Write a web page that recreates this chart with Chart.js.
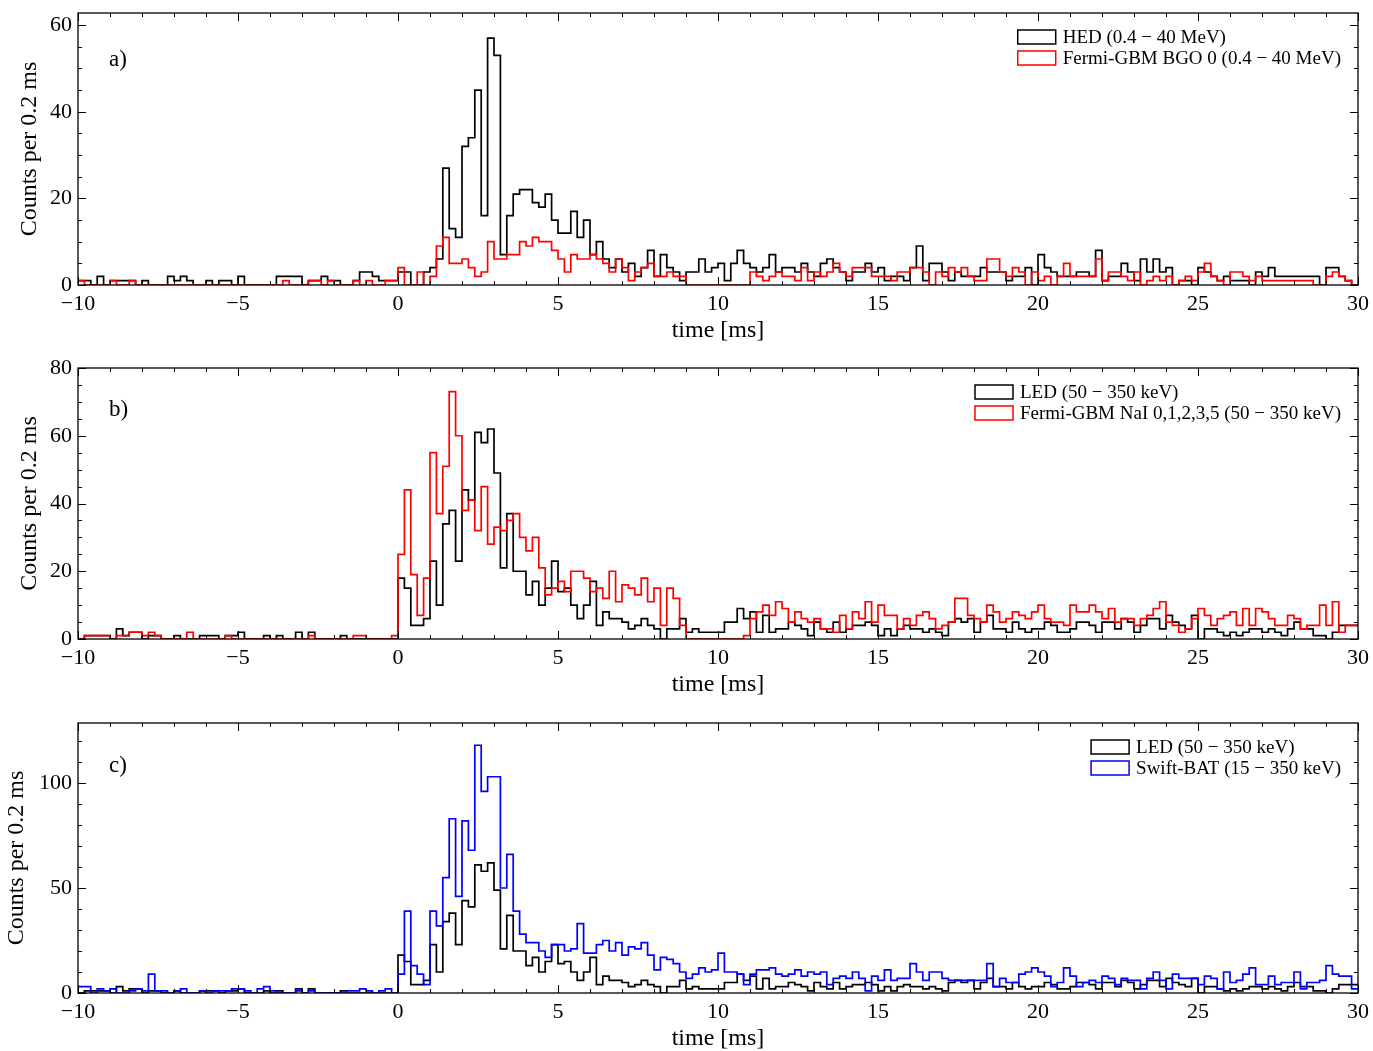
<!DOCTYPE html>
<html>
<head>
<meta charset="utf-8">
<script src="https://cdn.jsdelivr.net/npm/chart.js@4.4.6/dist/chart.umd.min.js"></script>
<style>
  html, body { margin: 0; padding: 0; background: #fff; }
  canvas { position: absolute; left: 0; }
</style>
</head>
<body>
<canvas id="pa" width="1373" height="355" style="top:0px"></canvas>
<canvas id="pb" width="1373" height="355" style="top:355px"></canvas>
<canvas id="pc" width="1373" height="341" style="top:710px"></canvas>
<script>
// Bins: 0.2 ms wide, from -10 ms to 30 ms (200 bins)
const binStart = -10;
const binWidth = 0.2;

const xTicks = [-10, -5, 0, 5, 10, 15, 20, 25, 30];
const yTicksA = [0, 20, 40, 60];
const yTicksB = [0, 20, 40, 60, 80];
const yTicksC = [0, 50, 100];

// a) HED 0.4-40 MeV
const hed = [
  1,1,0,2,0,1,1,1,1,0,  1,0,0,0,2,1,2,1,0,0,
  1,0,1,1,0,2,0,0,0,0,  0,2,2,2,2,0,1,1,2,1,
  1,0,0,1,3,3,2,1,1,1,  3,3,0,0,3,4,6,27,13,11,
  32,34,45,16,57,53,7,16,21,22,  22,19,18,21,15,12,12,17,11,15,
  7,10,6,4,6,3,5,2,4,8,  2,7,4,3,1,3,3,6,3,4,
  5,1,5,8,5,4,3,4,7,3,  4,4,3,5,3,2,5,6,4,3,
  1,3,3,5,3,4,1,2,2,1,  4,9,1,5,5,3,1,3,2,2,
  2,4,3,3,3,1,2,2,4,0,  7,4,3,2,2,2,3,3,2,8,
  1,2,2,5,3,1,6,3,6,3,  4,0,1,1,0,4,3,2,1,2,
  1,1,1,0,3,2,4,2,2,2,  2,2,2,2,0,4,4,2,1,0
];
// a) Fermi-GBM BGO 0 0.4-40 MeV
const bgo = [
  1,0,0,0,0,1,0,0,1,0,  0,0,0,0,0,0,0,0,0,0,
  0,0,0,0,0,0,0,0,0,0,  0,0,1,0,0,0,1,1,0,1,
  0,0,0,1,0,1,0,0,1,1,  4,0,0,3,0,2,9,11,5,5,
  6,4,2,3,10,6,6,7,7,10,  9,11,10,10,8,6,3,7,6,6,
  7,6,5,3,6,4,1,3,4,5,  2,2,3,2,2,0,0,0,0,0,
  0,0,0,0,0,3,2,1,2,3,  2,2,1,4,1,3,2,3,5,3,
  2,4,4,4,2,2,2,1,3,3,  4,4,3,0,3,2,4,3,4,2,
  1,1,6,6,3,2,4,3,0,3,  1,2,0,2,5,2,2,2,2,6,
  1,3,3,2,1,3,0,1,2,1,  2,0,1,2,1,3,5,2,1,0,
  3,3,2,1,2,1,1,1,1,1,  1,1,1,0,0,2,3,2,1,0
];
// b), c) LED 50-350 keV
const led = [
  0,1,1,1,1,0,3,1,2,2,  0,1,1,0,0,1,0,0,0,1,
  1,1,0,1,1,2,0,0,0,1,  0,1,0,0,2,0,2,0,0,0,
  0,1,0,0,0,0,0,0,0,0,  18,15,4,4,6,23,10,34,38,23,
  44,41,61,58,62,49,21,37,20,20,  13,17,10,15,23,14,15,10,6,10,
  17,4,8,6,6,5,3,4,6,4,  3,0,3,3,6,2,3,2,2,2,
  2,5,5,9,6,8,2,7,2,3,  3,5,4,3,1,5,3,2,5,2,
  3,4,4,5,4,1,3,1,3,4,  3,3,2,3,2,1,5,6,5,6,
  2,5,7,3,3,2,5,3,2,3,  3,5,4,2,2,3,5,5,4,2,
  5,5,3,6,5,2,4,6,6,3,  7,5,4,3,7,0,3,3,2,1,
  2,1,2,3,3,2,3,2,1,3,  5,3,3,1,1,0,2,4,4,4
];
// b) Fermi-GBM NaI 0,1,2,3,5 50-350 keV
const nai = [
  0,1,1,1,1,0,1,1,2,2,  1,2,1,0,0,0,0,2,0,0,
  0,0,0,1,0,0,0,0,0,0,  0,0,0,0,0,0,1,0,0,0,
  0,0,0,1,1,0,0,0,0,1,  25,44,19,7,18,55,37,51,73,60,
  38,41,32,45,28,33,32,35,37,30,  26,30,21,13,15,17,14,20,20,18,
  14,15,12,20,11,16,15,13,18,11,  15,4,15,12,4,0,0,0,0,0,
  0,0,0,0,1,6,8,10,7,11,  9,5,8,6,5,6,3,3,2,7,
  3,8,6,11,5,10,7,7,3,6,  4,7,8,6,3,4,5,12,12,7,
  6,5,10,8,5,6,8,7,6,8,  10,6,5,5,4,10,8,8,10,8,
  6,9,5,6,6,4,6,7,9,11,  5,4,2,3,6,9,7,4,6,7,
  8,4,9,4,9,8,6,4,4,7,  6,3,4,4,10,4,11,2,4,4
];
// c) Swift-BAT 15-350 keV
const bat = [
  3,3,0,2,1,2,0,0,1,2,  1,9,1,1,0,1,2,0,0,1,
  0,1,1,1,2,2,1,0,2,3,  1,0,0,0,1,0,1,0,0,0,
  0,0,1,1,2,1,0,1,2,0,  9,39,13,9,4,39,32,55,83,46,
  82,68,118,96,103,103,50,66,39,28,  24,24,20,17,23,23,20,21,33,19,
  19,23,25,20,24,18,22,21,24,18,  11,17,16,14,10,7,9,12,10,11,
  19,10,10,9,4,9,11,11,12,9,  8,9,11,8,10,9,10,4,7,8,
  7,10,7,1,8,6,11,6,7,7,  14,10,6,10,10,7,6,6,6,6,
  6,6,14,3,7,5,5,9,10,12,  10,8,3,5,12,8,3,5,6,5,
  8,7,4,7,6,6,2,7,10,6,  2,9,7,7,7,4,8,7,2,10,
  5,6,9,12,4,4,8,4,5,5,  10,2,5,5,6,13,9,8,8,2
];

const FONT = '"Liberation Serif", "Times New Roman", serif';
const minus = s => String(s).replace('-', '\u2212');

// histogram -> step points at the left edge of each bin, plus the closing right edge
const toSteps = vals => {
  const pts = vals.map((v, i) => ({ x: binStart + i * binWidth, y: v }));
  pts.push({ x: binStart + vals.length * binWidth, y: vals[vals.length - 1] });
  return pts;
};

const framePlugin = (p) => ({
  id: 'frame',
  afterDraw(chart) {
    const ctx = chart.ctx;
    const { left, right, top, bottom } = chart.chartArea;
    const xs = chart.scales.x, ys = chart.scales.y;
    ctx.save();
    ctx.strokeStyle = '#000';
    ctx.fillStyle = '#000';

    // ticks, pointing inward on all four sides
    ctx.lineWidth = 1;
    ctx.beginPath();
    for (let t = -10; t <= 30; t += 1) {
      const px = Math.round(xs.getPixelForValue(t)) + 0.5;
      const len = xTicks.includes(t) ? 8 : 4;
      ctx.moveTo(px, bottom); ctx.lineTo(px, bottom - len);
      ctx.moveTo(px, top); ctx.lineTo(px, top + len);
    }
    for (let v = 0; v <= p.yMax; v += p.yMinor) {
      const py = Math.round(ys.getPixelForValue(v)) + 0.5;
      const len = p.yTicks.includes(v) ? 8 : 4;
      ctx.moveTo(left, py); ctx.lineTo(left + len, py);
      ctx.moveTo(right, py); ctx.lineTo(right - len, py);
    }
    ctx.stroke();

    ctx.lineWidth = 1.3;
    ctx.strokeRect(left, top, right - left, bottom - top);

    // tick labels
    ctx.font = '22px ' + FONT;
    ctx.textAlign = 'center';
    ctx.textBaseline = 'alphabetic';
    xTicks.forEach(t => ctx.fillText(minus(t), xs.getPixelForValue(t), bottom + 25));
    ctx.textAlign = 'right';
    ctx.textBaseline = 'middle';
    p.yTicks.forEach(v => ctx.fillText(String(v), left - 6, ys.getPixelForValue(v)));

    // axis titles
    ctx.font = '24px ' + FONT;
    ctx.textAlign = 'center';
    ctx.fillText('time [ms]', (left + right) / 2, bottom + 46);
    ctx.save();
    ctx.translate(p.yTitleX, (top + bottom) / 2);
    ctx.rotate(-Math.PI / 2);
    ctx.fillText('Counts per 0.2 ms', 0, 0);
    ctx.restore();

    // panel letter
    ctx.font = '23px ' + FONT;
    ctx.textAlign = 'left';
    ctx.fillText(p.letter, left + 31, top + p.letterDy);

    // legend (outlined boxes, as in a step histogram)
    ctx.font = '19px ' + FONT;
    const widths = p.series.map(s => ctx.measureText(s.label).width);
    const textX = right - 17 - Math.max(...widths);
    const boxX = textX - 45;
    p.series.forEach((s, i) => {
      const cy = top + 24 + i * 21;
      ctx.strokeStyle = s.color;
      ctx.lineWidth = 1.5;
      ctx.strokeRect(boxX, cy - 7, 38, 14);
      ctx.fillStyle = '#000';
      ctx.textAlign = 'left';
      ctx.textBaseline = 'middle';
      ctx.fillText(s.label, textX, cy + 1);
    });
    ctx.restore();
  }
});

function makePanel(id, p) {
  // colored series drawn on top (dataset 0 is painted last)
  const drawOrder = p.series.slice().reverse();
  new Chart(document.getElementById(id), {
    type: 'line',
    data: {
      datasets: drawOrder.map(s => ({
        data: toSteps(s.values),
        borderColor: s.color,
        borderWidth: 1.7,
        stepped: 'before',
        pointRadius: 0,
        fill: false
      }))
    },
    options: {
      responsive: false,
      animation: false,
      devicePixelRatio: 1,
      layout: { padding: { left: 78, right: 15, top: 13, bottom: p.padBottom } },
      scales: {
        x: { type: 'linear', min: -10, max: 30, display: false },
        y: { type: 'linear', min: 0, max: p.yMax, display: false }
      },
      plugins: { legend: { display: false }, tooltip: { enabled: false } }
    },
    plugins: [framePlugin(p)]
  });
}

makePanel('pa', {
  yMax: 62.8, yMinor: 5, yTicks: yTicksA, padBottom: 70, yTitleX: 30, letter: 'a)', letterDy: 47,
  series: [
    { label: 'HED (0.4 \u2212 40 MeV)', color: '#000000', values: hed },
    { label: 'Fermi-GBM BGO 0 (0.4 \u2212 40 MeV)', color: '#ff0000', values: bgo }
  ]
});
makePanel('pb', {
  yMax: 80, yMinor: 5, yTicks: yTicksB, padBottom: 71, yTitleX: 30, letter: 'b)', letterDy: 42,
  series: [
    { label: 'LED (50 \u2212 350 keV)', color: '#000000', values: led },
    { label: 'Fermi-GBM NaI 0,1,2,3,5 (50 \u2212 350 keV)', color: '#ff0000', values: nai }
  ]
});
makePanel('pc', {
  yMax: 128.6, yMinor: 10, yTicks: yTicksC, padBottom: 58, yTitleX: 17, letter: 'c)', letterDy: 43,
  series: [
    { label: 'LED (50 \u2212 350 keV)', color: '#000000', values: led },
    { label: 'Swift-BAT (15 \u2212 350 keV)', color: '#0000ff', values: bat }
  ]
});
</script>
</body>
</html>
